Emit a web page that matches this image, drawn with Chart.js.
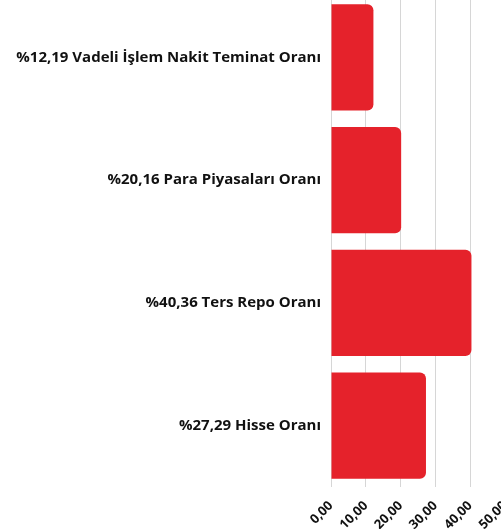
<!DOCTYPE html>
<html>
<head>
<meta charset="utf-8">
<script src="https://cdn.jsdelivr.net/npm/chart.js@4/dist/chart.umd.min.js"></script>
<style>
  html, body { margin: 0; padding: 0; background: #fff; overflow: hidden; }
  canvas { display: block; margin-top: -8px; }
</style>
</head>
<body>
<canvas id="oranlar" width="505" height="537"></canvas>
<script>
const kategoriler = ['Vadeli İşlem Nakit Teminat Oranı', 'Para Piyasaları Oranı', 'Ters Repo Oranı', 'Hisse Oranı'];
const oranlar = [12.19, 20.16, 40.36, 27.29];
const eksenDegerleri = [0, 10, 20, 30, 40, 50];

function virgullu(v) {
    return v.toFixed(2).replace('.', ',');
}

const etiketler = kategoriler.map((k, i) => '%' + virgullu(oranlar[i]) + ' ' + k);
const yazi = { family: '"Open Sans", sans-serif', size: 15, weight: '700' };
const eksenYazi = { family: '"Open Sans", sans-serif', size: 13, weight: '700' };

new Chart(document.getElementById('oranlar').getContext('2d'), {
    type: 'bar',
    data: {
        labels: etiketler,
        datasets: [{
            data: oranlar,
            backgroundColor: '#e5222b',
            borderRadius: 6,
            borderSkipped: 'start',
            categoryPercentage: 1,
            barPercentage: 0.864
        }]
    },
    options: {
        indexAxis: 'y',
        responsive: false,
        animation: false,
        layout: { padding: { top: 4, right: 0, left: 0, bottom: 0 } },
        plugins: { legend: { display: false }, tooltip: { enabled: false } },
        scales: {
            x: {
                min: eksenDegerleri[0],
                max: eksenDegerleri[eksenDegerleri.length - 1],
                afterBuildTicks: ax => { ax.ticks = eksenDegerleri.map(v => ({ value: v })); },
                afterFit: ax => { ax.height = 42; ax.paddingLeft = 0; ax.paddingRight = 0; },
                border: { display: false },
                grid: { color: '#d6d6d6', drawTicks: false },
                ticks: {
                    color: '#111',
                    font: eksenYazi,
                    padding: 11,
                    minRotation: 45,
                    maxRotation: 45,
                    callback: v => virgullu(v)
                }
            },
            y: {
                afterFit: ax => { ax.width = 331; ax.paddingTop = 0; ax.paddingBottom = 0; },
                border: { display: false },
                grid: { display: false, drawTicks: false },
                ticks: { color: '#111', font: yazi, padding: 10 }
            }
        }
    }
});
</script>
</body>
</html>
